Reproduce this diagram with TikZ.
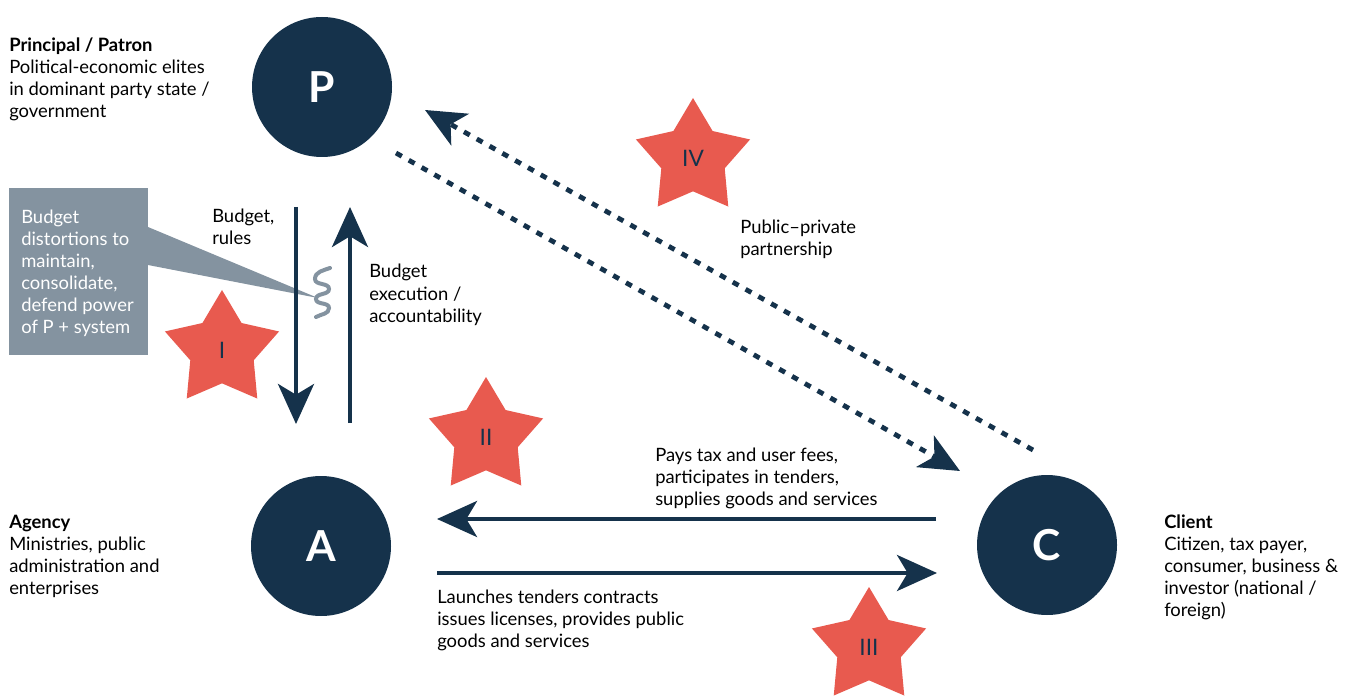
\documentclass[tikz,border=0pt]{standalone}
\usepackage{fontspec}
\setmainfont{Lato}
\usetikzlibrary{arrows.meta,shapes.geometric}
\definecolor{navy}{HTML}{15324B}
\definecolor{starred}{HTML}{E85A4F}
\definecolor{slate}{HTML}{8493A0}
\begin{document}
\begin{tikzpicture}[x=0.75pt,y=-0.75pt,
  actor/.style={circle,fill=navy,minimum size=105pt,inner sep=0pt,text=white,
    font=\fontsize{32}{32}\selectfont\bfseries},
  flow/.style={draw=navy,line width=3pt,-{Stealth[length=30pt,width=27pt,inset=8pt]}},
  dotflow/.style={draw=navy,line width=3.6pt,dash pattern=on 5pt off 6pt,
    -{Stealth[length=30pt,width=27pt,inset=8pt]}},
  badge/.style={star,star points=5,star point ratio=1.8,fill=starred,
    minimum size=90pt,inner sep=0pt,text=navy,font=\fontsize{17}{17}\selectfont},
  % multi-line texts are placed by the baseline of their last line
  txt/.style={anchor=base west,align=left,inner sep=0pt,
    font=\fontsize{13.8}{16.5}\selectfont},
  notebox/.style={rectangle,fill=slate,minimum width=104.25pt,minimum height=125.25pt,inner sep=0pt}
]
\useasboundingbox (0,0) rectangle (1355,698);

% actors
\node[actor] (P) at (322,87) {P};
\node[actor] (A) at (321,546) {A};
\node[actor] (C) at (1047,545) {C};

% stars
\node[badge] (s1) at (222,350) {I};
\node[badge] (s2) at (486,437) {II};
\node[badge] (s3) at (869,647) {III};
\node[badge] (s4) at (693,158) {IV};

% callout note
\node[notebox] (note) at (78.5,271.5) {};
\coordinate (ptrA) at (148,227);
\coordinate (ptrB) at (148,265);
\coordinate (ptrTip) at (318,298);
\fill[slate] (ptrA) -- (ptrTip) -- (ptrB) -- cycle;
\node[txt,text=white] (notetext) at (21,334)
  {Budget\\distortions to\\maintain,\\consolidate,\\defend power\\of P + system};
% wavy mark
\draw[slate,line width=3pt,line cap=round]
  (330,268) to[out=200,in=90] (315,279) to[out=-90,in=90] (329,289)
  to[out=-90,in=90] (316,299) to[out=-90,in=90] (329,308)
  to[out=-90,in=30] (316,317);

% vertical flows between P and A
\coordinate (d0) at (296,207); \coordinate (d1) at (296,424);
\coordinate (u0) at (350,423); \coordinate (u1) at (350,207);
\draw[flow] (d0) -- (d1);
\draw[flow] (u0) -- (u1);

% horizontal flows between A and C
\coordinate (l0) at (936,519); \coordinate (l1) at (437,519);
\coordinate (r0) at (437,573); \coordinate (r1) at (937,573);
\draw[flow] (l0) -- (l1);
\draw[flow] (r0) -- (r1);

% dotted flows between P and C
\coordinate (pc0) at (396,153); \coordinate (pc1) at (960,471);
\coordinate (cp0) at (1033,450); \coordinate (cp1) at (425,110);
\draw[dotflow] (pc0) -- (pc1);
\draw[dotflow] (cp0) -- (cp1);

% texts
\node[txt] (tP) at (9,118) {\textbf{Principal / Patron}\\Political-economic elites\\in dominant party state /\\government};
\node[txt] (tA) at (9,594) {\textbf{Agency}\\Ministries, public\\administration and\\enterprises};
\node[txt] (tC) at (1164,616) {\textbf{Client}\\Citizen, tax payer,\\consumer, business \&\\investor (national /\\foreign)};
\node[txt] (tbr) at (212,245) {Budget,\\rules};
\node[txt] (tbe) at (369,322) {Budget\\execution /\\accountability};
\node[txt] (tppp) at (740,256) {Public–private\\partnership};
\node[txt] (tpay) at (655,505) {Pays tax and user fees,\\participates in tenders,\\supplies goods and services};
\node[txt] (tlau) at (437,647) {Launches tenders contracts\\issues licenses, provides public\\goods and services};
\end{tikzpicture}
\end{document}
